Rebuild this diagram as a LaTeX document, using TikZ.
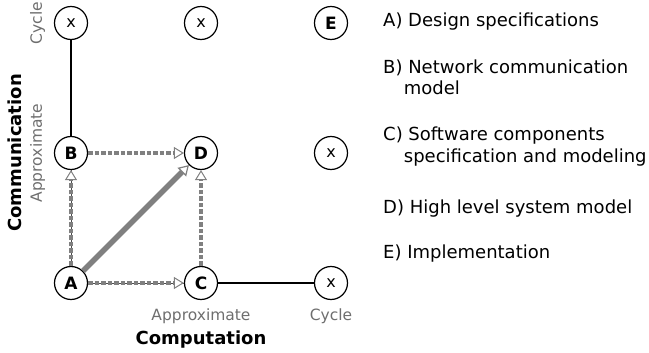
\documentclass[tikz,border=0pt]{standalone}
\usepackage{fontspec}
\setmainfont{DejaVu Sans}
\usetikzlibrary{arrows.meta}
\definecolor{lgray}{HTML}{808080}
\definecolor{tgray}{HTML}{6E6E6E}
\begin{document}
\begin{tikzpicture}[x=1pt,y=-1pt,
  circ/.style={circle,draw,line width=1.2pt,minimum size=33pt,inner sep=0pt,font=\fontsize{17}{19}\selectfont\bfseries},
  xcirc/.style={circle,draw,line width=1.2pt,minimum size=33pt,inner sep=0pt,font=\fontsize{16}{19}\selectfont},
  dasharrow/.style={draw=lgray,line width=4pt,dash pattern=on 4.5pt off 2pt,-{Triangle[open,length=10pt,width=12pt,line width=1pt,fill=white]}},
  core/.style={draw=black!70,line width=0.9pt},
  lbl/.style={text=tgray,font=\fontsize{15.5}{18}\selectfont,inner sep=0pt},
  axis/.style={font=\fontsize{18}{20}\selectfont\bfseries,inner sep=0pt},
  legend/.style={anchor=base west,font=\fontsize{18}{21}\selectfont,align=left,inner sep=0pt}]
\useasboundingbox (0,0) rectangle (649,353);
\node[circ] (A) at (71,283) {A};
\node[circ] (C) at (201,283) {C};
\node[xcirc] (xr) at (331,283) {x};
\node[circ] (B) at (71,153) {B};
\node[circ] (D) at (201,153) {D};
\node[xcirc] (xm) at (331,153) {x};
\node[xcirc] (xt) at (71,23) {x};
\node[xcirc] (xc) at (201,23) {x};
\node[circ] (E) at (331,23) {E};
\draw[line width=1.2pt] (B) -- (xt);
\draw[line width=1.2pt] (C) -- (xr);
\draw[core] (A) -- (B);
\draw[core] (A) -- (C);
\draw[dasharrow] (A) -- (B);
\draw[dasharrow] (A) -- (C);
\draw[dasharrow] (B) -- (D);
\draw[dasharrow] (C) -- (D);
\draw[draw=lgray,line width=5.5pt,-{Triangle[open,length=10pt,width=12pt,line width=1.2pt,fill=white]}] (A) -- (D);
\node[lbl,rotate=90] (cyc) at (37.5,23) {Cycle};
\node[lbl,rotate=90] (apl) at (37.5,153) {Approximate};
\node[axis,rotate=90] (commu) at (14.5,153) {Communication};
\node[lbl] (apb) at (201,316) {Approximate};
\node[lbl] (cyb) at (331,316) {Cycle};
\node[axis] (compu) at (201,340) {Computation};
\node[legend] (la) at (383,27) {A) Design specifications};
\node[legend] (lb) at (383,95) {B) Network communication\\\hspace*{1.15em}model};
\node[legend] (lc) at (383,162) {C) Software components\\\hspace*{1.15em}specification and modeling};
\node[legend] (ld) at (383,213) {D) High level system model};
\node[legend] (le) at (383,258) {E) Implementation};
\end{tikzpicture}
\end{document}
